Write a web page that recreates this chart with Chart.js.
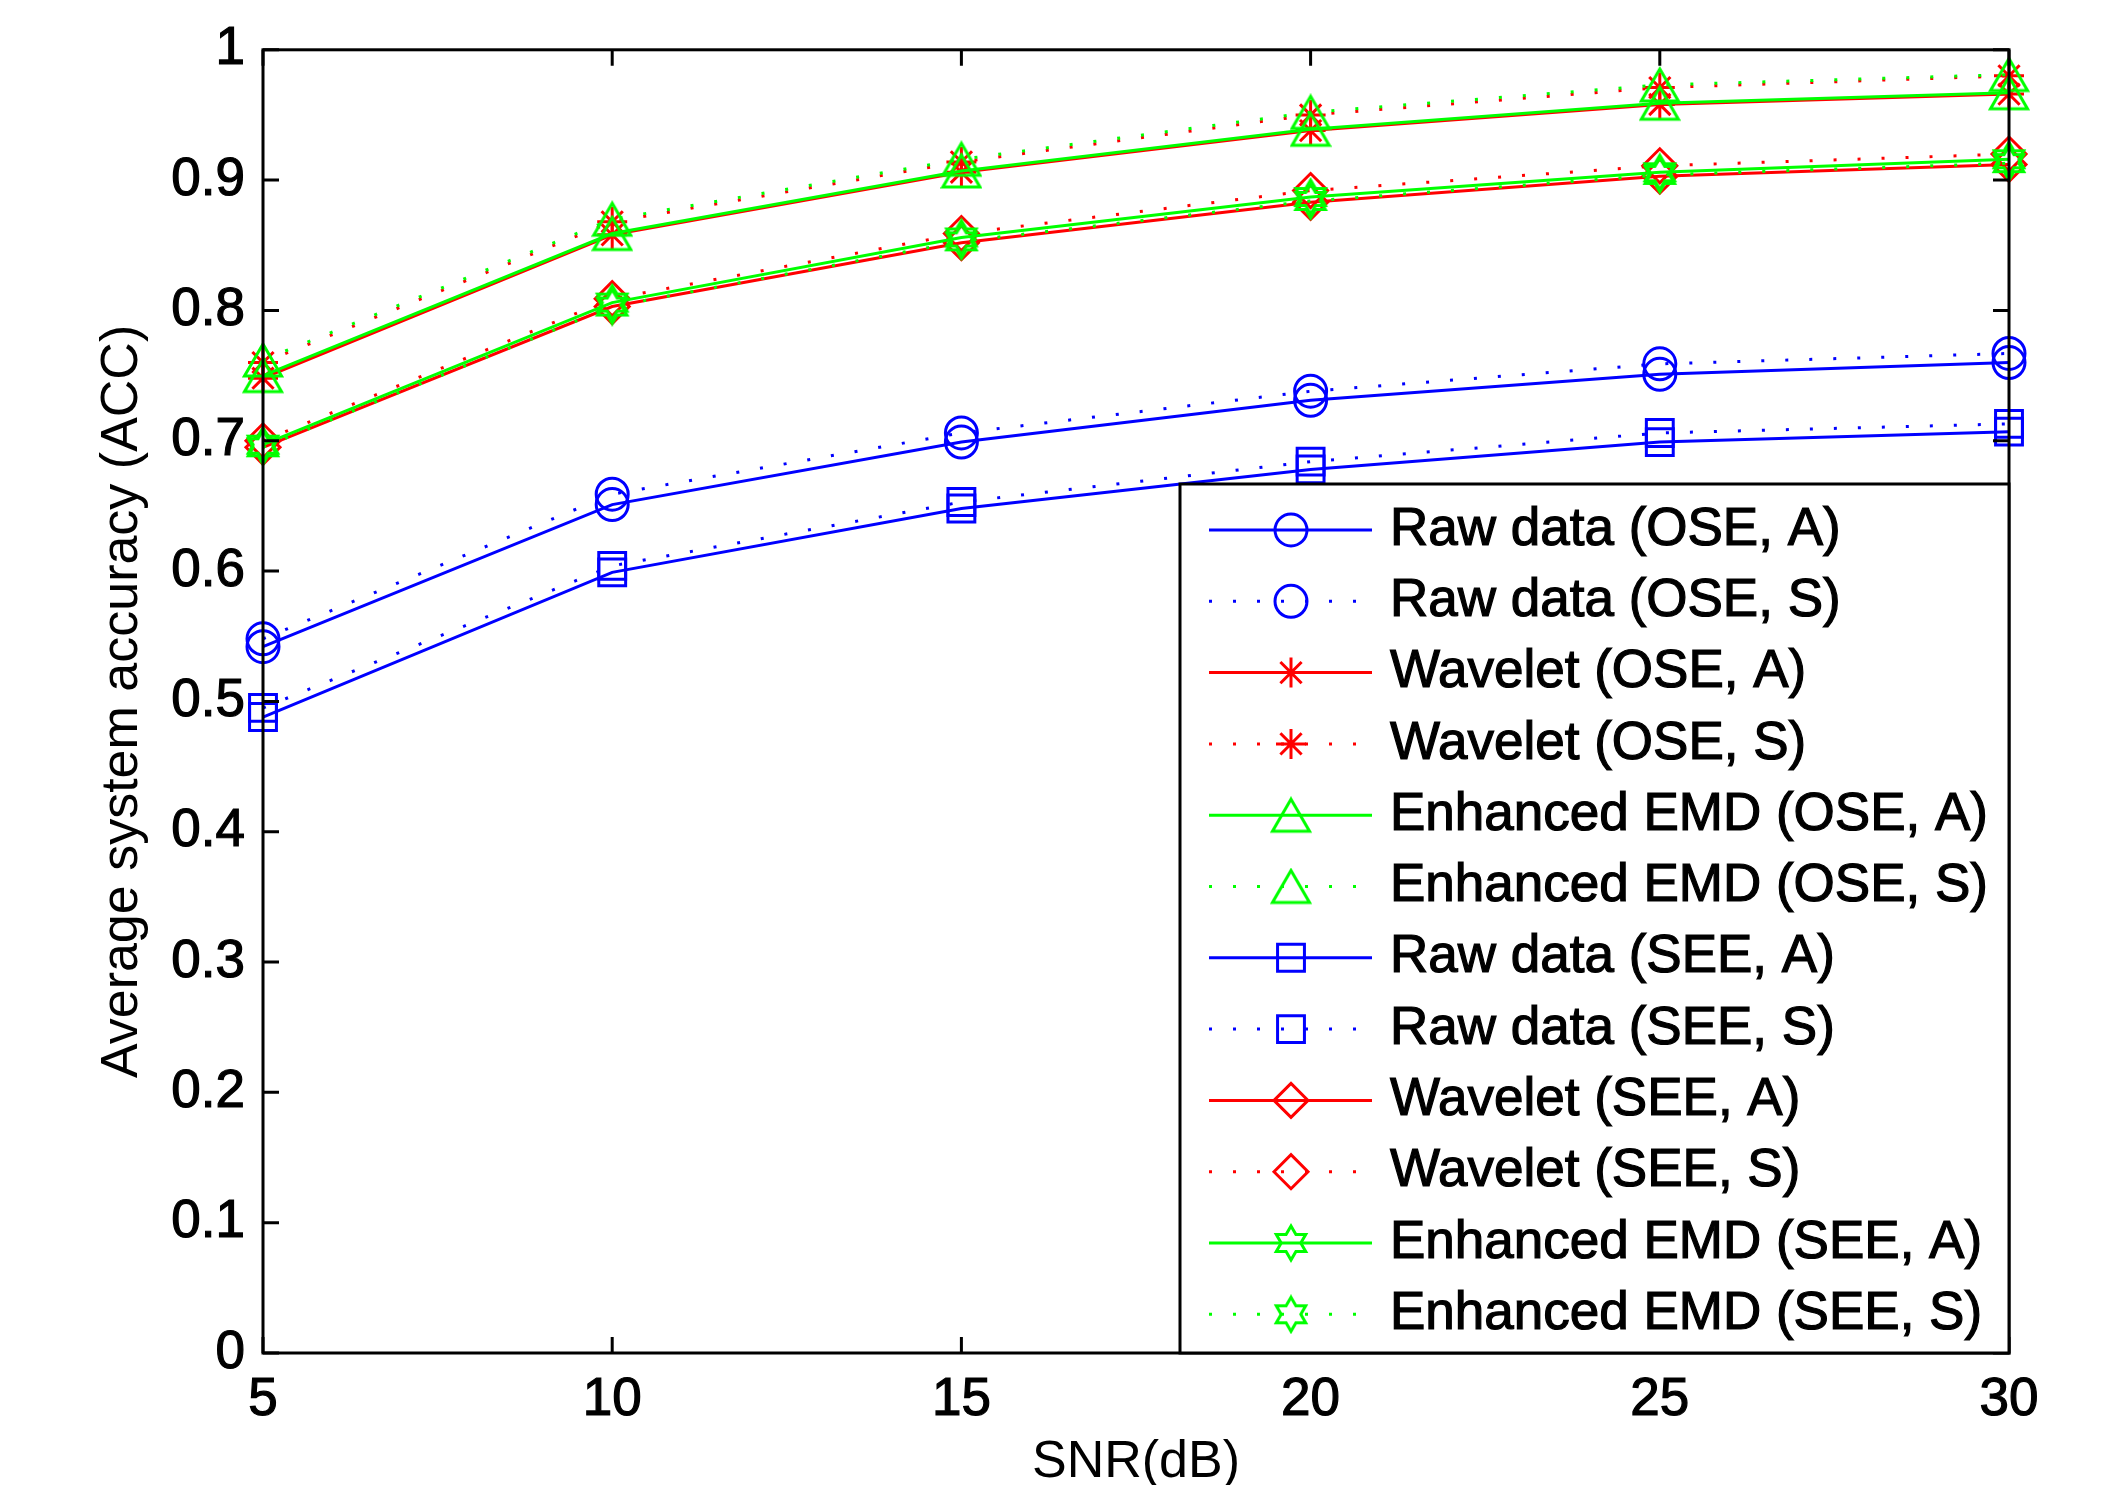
<!DOCTYPE html>
<html>
<head>
<meta charset="utf-8">
<script src="https://cdn.jsdelivr.net/npm/chart.js@4/dist/chart.umd.min.js"></script>
<style>
  html,body{margin:0;padding:0;background:#fff;}
  #wrap{width:2101px;height:1485px;}
</style>
</head>
<body>
<div id="wrap"><canvas id="accChart" width="2101" height="1485"></canvas></div>
<script>
// SNR levels (dB)
const snr=[5,10,15,20,25,30];
const yTicks=[0,0.1,0.2,0.3,0.4,0.5,0.6,0.7,0.8,0.9,1];

// accuracy values
const rawOseA=[0.542,0.651,0.699,0.731,0.751,0.760];
const rawOseS=[0.548,0.659,0.706,0.738,0.759,0.767];
const wavOseA=[0.748,0.858,0.906,0.938,0.958,0.966];
const wavOseS=[0.760,0.868,0.914,0.950,0.971,0.980];
const emdOseA=[0.750,0.859,0.907,0.939,0.959,0.967];
const emdOseS=[0.762,0.870,0.916,0.952,0.973,0.981];
const rawSeeA=[0.488,0.599,0.648,0.678,0.699,0.707];
const rawSeeS=[0.495,0.604,0.653,0.684,0.706,0.713];
const wavSeeA=[0.695,0.803,0.852,0.883,0.903,0.912];
const wavSeeS=[0.700,0.809,0.859,0.892,0.911,0.920];
const emdSeeA=[0.697,0.806,0.856,0.887,0.906,0.916];
const emdSeeS=[0.695,0.803,0.853,0.884,0.904,0.913];

const BLUE='#0000ff', RED='#ff0000', GREEN='#00ff00';
const FONT='"Liberation Sans", Arial, Helvetica, sans-serif';
const FSIZE=53;
const TICK=16;
const LW=3;

// custom markers: centred triangle and hexagram outline
function makeTriangle(color){
  const c=document.createElement('canvas'); c.width=42; c.height=38;
  const g=c.getContext('2d'); g.strokeStyle=color; g.lineWidth=LW;
  g.beginPath(); g.moveTo(21,3); g.lineTo(39.5,35); g.lineTo(2.5,35); g.closePath(); g.stroke();
  return c;
}
function makeHexagram(color){
  const c=document.createElement('canvas'); c.width=40; c.height=40;
  const g=c.getContext('2d'); g.strokeStyle=color; g.lineWidth=LW;
  const R=17, r=R/Math.sqrt(3);
  g.beginPath();
  for(let k=0;k<12;k++){
    const a=-Math.PI/2+k*Math.PI/6, rad=k%2?r:R;
    const px=20+Math.cos(a)*rad, py=20+Math.sin(a)*rad;
    k?g.lineTo(px,py):g.moveTo(px,py);
  }
  g.closePath(); g.stroke();
  return c;
}
const triGreen=makeTriangle(GREEN);
const hexGreen=makeHexagram(GREEN);

function series(label,data,color,dotted,style,radius){
  return {
    label,data:data.map((v,i)=>({x:snr[i],y:v})),
    borderColor:color,borderWidth:LW,borderDash:dotted?[3,21]:[],borderCapStyle:'butt',
    pointStyle:style,pointRadius:radius,pointHoverRadius:radius,pointBorderWidth:LW,
    pointBorderColor:color,pointBackgroundColor:'rgba(0,0,0,0)',
    fill:false,tension:0,clip:false
  };
}

const datasets=[
  series('Raw data (OSE, A)',rawOseA,BLUE,false,'circle',16),
  series('Raw data (OSE, S)',rawOseS,BLUE,true,'circle',16),
  series('Wavelet (OSE, A)',wavOseA,RED,false,'star',15),
  series('Wavelet (OSE, S)',wavOseS,RED,true,'star',15),
  series('Enhanced EMD (OSE, A)',emdOseA,GREEN,false,triGreen,18),
  series('Enhanced EMD (OSE, S)',emdOseS,GREEN,true,triGreen,18),
  series('Raw data (SEE, A)',rawSeeA,BLUE,false,'rect',19),
  series('Raw data (SEE, S)',rawSeeS,BLUE,true,'rect',19),
  series('Wavelet (SEE, A)',wavSeeA,RED,false,'rectRot',17),
  series('Wavelet (SEE, S)',wavSeeS,RED,true,'rectRot',17),
  series('Enhanced EMD (SEE, A)',emdSeeA,GREEN,false,hexGreen,17),
  series('Enhanced EMD (SEE, S)',emdSeeS,GREEN,true,hexGreen,17)
];
// later series are drawn on top, like the original
datasets.forEach((d,i)=>d.order=-i);

function drawMarker(ctx,style,x,y,r,color,lw){
  ctx.save();
  if(style instanceof HTMLCanvasElement){
    ctx.drawImage(style,x-style.width/2,y-style.height/2);
    ctx.restore(); return;
  }
  ctx.strokeStyle=color; ctx.lineWidth=lw; ctx.setLineDash([]);
  ctx.beginPath();
  if(style==='circle') ctx.arc(x,y,r,0,Math.PI*2);
  else if(style==='rect'){const s=r*Math.SQRT1_2; ctx.rect(x-s,y-s,2*s,2*s);}
  else if(style==='rectRot'){ctx.moveTo(x-r,y);ctx.lineTo(x,y-r);ctx.lineTo(x+r,y);ctx.lineTo(x,y+r);ctx.closePath();}
  else if(style==='star'){
    for(let k=0;k<4;k++){const t=k*Math.PI/4;ctx.moveTo(x-Math.cos(t)*r,y-Math.sin(t)*r);ctx.lineTo(x+Math.cos(t)*r,y+Math.sin(t)*r);}
  }
  ctx.stroke(); ctx.restore();
}

// box around the axes with inward ticks on all four sides
const framePlugin={
  id:'frame',
  afterDatasetsDraw(chart){
    const {ctx,chartArea:a,scales:{x,y}}=chart;
    ctx.save();
    ctx.strokeStyle='#000'; ctx.lineWidth=3; ctx.setLineDash([]);
    ctx.beginPath();
    x.ticks.forEach((t,i)=>{
      const px=x.getPixelForTick(i);
      ctx.moveTo(px,a.bottom); ctx.lineTo(px,a.bottom-TICK);
      ctx.moveTo(px,a.top); ctx.lineTo(px,a.top+TICK);
    });
    y.ticks.forEach((t,i)=>{
      const py=y.getPixelForTick(i);
      ctx.moveTo(a.left,py); ctx.lineTo(a.left+TICK,py);
      ctx.moveTo(a.right,py); ctx.lineTo(a.right-TICK,py);
    });
    ctx.stroke();
    ctx.strokeRect(a.left,a.top,a.right-a.left,a.bottom-a.top);
    ctx.restore();
  }
};

// boxed legend in the lower right corner of the axes
const legendPlugin={
  id:'boxLegend',
  afterDraw(chart){
    const {ctx,chartArea:a}=chart;
    const w=829,h=869,left=a.right-w,top=a.bottom-h;
    ctx.save();
    ctx.fillStyle='#fff'; ctx.fillRect(left,top,w,h);
    ctx.strokeStyle='#000'; ctx.lineWidth=3; ctx.strokeRect(left,top,w,h);
    ctx.font=FSIZE+'px '+FONT; ctx.textBaseline='middle'; ctx.textAlign='left';
    chart.data.datasets.forEach((ds,i)=>{
      const cy=top+46+i*71.3;
      ctx.strokeStyle=ds.borderColor; ctx.lineWidth=ds.borderWidth;
      ctx.setLineDash(ds.borderDash); ctx.lineCap='butt';
      ctx.beginPath(); ctx.moveTo(left+29,cy); ctx.lineTo(left+192,cy); ctx.stroke();
      drawMarker(ctx,ds.pointStyle,left+111,cy,ds.pointRadius,ds.borderColor,ds.pointBorderWidth);
      ctx.setLineDash([]);
      ctx.fillStyle='#000'; ctx.strokeStyle='#000'; ctx.lineWidth=1.2;
      ctx.fillText(ds.label,left+210,cy);
      ctx.strokeText(ds.label,left+210,cy);
    });
    ctx.restore();
  }
};

new Chart(document.getElementById('accChart'),{
  type:'line',
  data:{datasets},
  options:{
    responsive:false,animation:false,devicePixelRatio:1,
    layout:{padding:{left:97,top:48,right:92,bottom:0}},
    plugins:{legend:{display:false},tooltip:{enabled:false}},
    scales:{
      x:{
        type:'linear',min:snr[0],max:snr[snr.length-1],
        afterFit:s=>{s.height=132;},
        afterBuildTicks:s=>{s.ticks=snr.map(v=>({value:v}));},
        grid:{display:false,drawTicks:false},border:{display:false},
        ticks:{padding:16,color:'#000',textStrokeColor:'#000',textStrokeWidth:1.2,font:{family:FONT,size:FSIZE},callback:v=>String(v)},
        title:{display:true,text:'SNR(dB)',color:'#000',font:{family:FONT,size:FSIZE-1,lineHeight:0.85},padding:{top:0,bottom:0}}
      },
      y:{
        min:0,max:1,
        afterFit:s=>{s.width=166;},
        afterBuildTicks:s=>{s.ticks=yTicks.map(v=>({value:v}));},
        grid:{display:false,drawTicks:false},border:{display:false},
        ticks:{padding:18,color:'#000',textStrokeColor:'#000',textStrokeWidth:1.2,font:{family:FONT,size:FSIZE},callback:v=>String(+v.toFixed(1))},
        title:{display:true,text:'Average system accuracy (ACC)',color:'#000',font:{family:FONT,size:FSIZE-1,lineHeight:1},padding:{top:0,bottom:0}}
      }
    }
  },
  plugins:[framePlugin,legendPlugin]
});
</script>
</body>
</html>
